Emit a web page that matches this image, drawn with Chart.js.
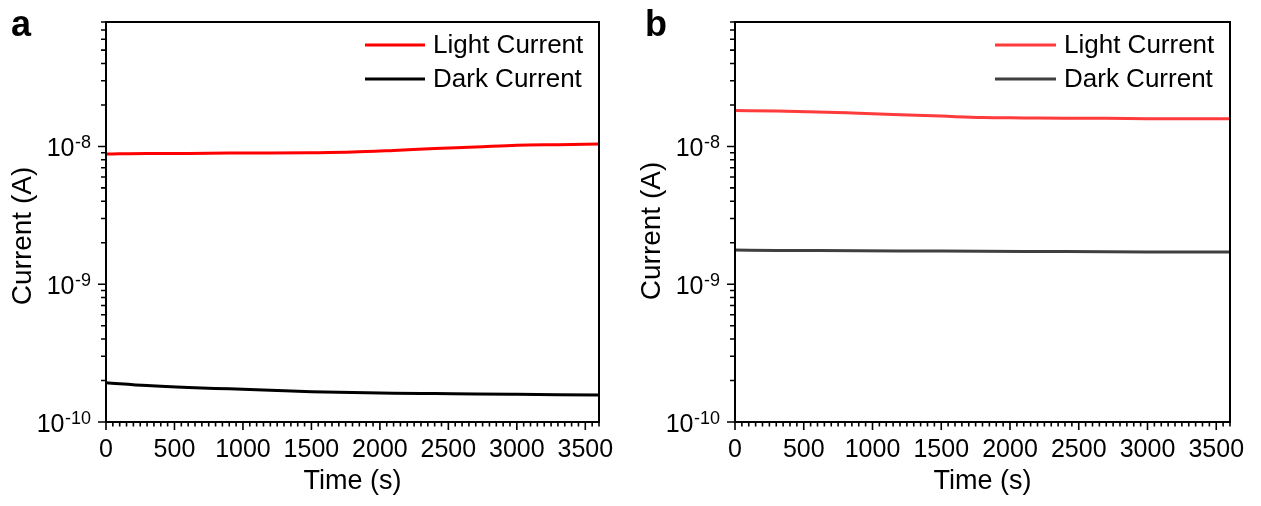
<!DOCTYPE html>
<html><head><meta charset="utf-8">
<script src="https://cdn.jsdelivr.net/npm/chart.js@4.4.0/dist/chart.umd.min.js"></script>
<style>
html,body{margin:0;padding:0;background:#fff;width:1261px;height:506px;overflow:hidden;}
.panel{position:absolute;top:0;height:506px;}
canvas{display:block;}
.letter{position:absolute;font:bold 36px "Liberation Sans",Arial,sans-serif;line-height:36px;color:#000;}
</style></head><body>
<div class="panel" style="left:0;width:630px"><canvas id="ca" width="630" height="506"></canvas></div>
<div class="panel" style="left:630px;width:631px"><canvas id="cb" width="631" height="506"></canvas></div>
<div class="letter" style="left:11px;top:6px">a</div>
<div class="letter" style="left:645px;top:6px">b</div>
<script>
// ---- data ----
const timeSeconds   = [0, 300, 600, 900, 1200, 1500, 1800, 2100, 2400, 2700, 3000, 3300, 3600];
const lightCurrentA = [8.8e-9, 8.9e-9, 8.9e-9, 8.95e-9, 8.95e-9, 9.0e-9, 9.1e-9, 9.35e-9, 9.65e-9, 9.9e-9, 1.02e-8, 1.03e-8, 1.04e-8];
const darkCurrentA  = [1.93e-10, 1.84e-10, 1.78e-10, 1.74e-10, 1.70e-10, 1.66e-10, 1.64e-10, 1.62e-10, 1.61e-10, 1.60e-10, 1.59e-10, 1.58e-10, 1.57e-10];
const lightCurrentB = [1.82e-8, 1.81e-8, 1.78e-8, 1.74e-8, 1.70e-8, 1.66e-8, 1.62e-8, 1.61e-8, 1.60e-8, 1.60e-8, 1.59e-8, 1.59e-8, 1.59e-8];
const darkCurrentB  = [1.77e-9, 1.76e-9, 1.755e-9, 1.75e-9, 1.745e-9, 1.74e-9, 1.735e-9, 1.73e-9, 1.725e-9, 1.72e-9, 1.715e-9, 1.71e-9, 1.71e-9];
const seriesLabels  = ['Light Current', 'Dark Current'];
const xTickValues   = [0, 500, 1000, 1500, 2000, 2500, 3000, 3500];
const xMinorStep    = 50;
const yDecadeTicks  = [1e-10, 1e-9, 1e-8];
const yTickExponents = ['-10', '-9', '-8'];
const xRange = [0, 3600];
const yRange = [1e-10, 8e-8];

const FONT = '"Liberation Sans", Arial, sans-serif';
Chart.defaults.font.family = FONT;
Chart.defaults.color = '#000';

const paperPlugin = {
  id: 'paperFrame',
  afterDraw(chart, args, o) {
    const ctx = chart.ctx, a = chart.chartArea, xs = chart.scales.x, ys = chart.scales.y;
    ctx.save();
    ctx.strokeStyle = '#000';
    ctx.fillStyle = '#000';
    // frame
    ctx.lineWidth = 2;
    ctx.strokeRect(a.left, a.top, a.right - a.left, a.bottom - a.top);
    // x ticks
    ctx.lineWidth = 1.6;
    ctx.beginPath();
    for (let t = xRange[0]; t <= xRange[1]; t += xMinorStep) {
      const px = xs.getPixelForValue(t);
      const len = (t % 500 === 0) ? 8 : 4.5;
      ctx.moveTo(px, a.bottom); ctx.lineTo(px, a.bottom + len);
    }
    // y ticks
    for (let d = -10; d <= -8; d++) {
      for (let m = 1; m <= 9; m++) {
        const v = m * Math.pow(10, d);
        if (v > yRange[1] * 1.0001) continue;
        const py = ys.getPixelForValue(v);
        const len = (m === 1) ? 8 : 5;
        ctx.moveTo(a.left - len, py); ctx.lineTo(a.left, py);
      }
    }
    ctx.stroke();
    // y tick labels 10^n
    const rightEdge = a.left - 15;
    yDecadeTicks.forEach((v, i) => {
      const py = ys.getPixelForValue(v);
      ctx.textAlign = 'right';
      ctx.textBaseline = 'alphabetic';
      ctx.font = '18px ' + FONT;
      const sw = ctx.measureText(yTickExponents[i]).width;
      ctx.fillText(yTickExponents[i], rightEdge, py + 2);
      ctx.font = '25px ' + FONT;
      ctx.fillText('10', rightEdge - sw - 0.5, py + 10);
    });
    // y title
    ctx.save();
    ctx.translate(a.left - 83, o.yTitleY);
    ctx.rotate(-Math.PI / 2);
    ctx.font = '28px ' + FONT;
    ctx.textAlign = 'center';
    ctx.textBaseline = 'middle';
    ctx.fillText('Current (A)', 0, 0);
    ctx.restore();
    // legend
    chart.data.datasets.forEach((ds, i) => {
      const y = a.top + 23 + i * 34;
      ctx.strokeStyle = ds.borderColor;
      ctx.lineWidth = 3;
      ctx.beginPath();
      ctx.moveTo(a.right - o.legX1, y); ctx.lineTo(a.right - 174, y);
      ctx.stroke();
      ctx.font = '26px ' + FONT;
      ctx.textAlign = 'left';
      ctx.textBaseline = 'middle';
      ctx.fillText(ds.label, a.right - 166, y + 0.5);
    });
    ctx.restore();
  }
};

function makeChart(id, light, dark, lightColor, darkColor, padRight, yAxisW, yTitleY, legX1) {
  return new Chart(document.getElementById(id), {
    type: 'line',
    data: {
      labels: timeSeconds,
      datasets: [
        { label: seriesLabels[0], data: timeSeconds.map((t, i) => ({x: t, y: light[i]})), borderColor: lightColor, borderWidth: 3, pointRadius: 0, cubicInterpolationMode: 'monotone', fill: false },
        { label: seriesLabels[1], data: timeSeconds.map((t, i) => ({x: t, y: dark[i]})), borderColor: darkColor, borderWidth: 3, pointRadius: 0, cubicInterpolationMode: 'monotone', fill: false }
      ]
    },
    options: {
      responsive: false,
      animation: false,
      devicePixelRatio: 1,
      layout: { padding: { left: 0, top: 22, right: padRight, bottom: 0 } },
      plugins: { legend: { display: false }, tooltip: { enabled: false }, paperFrame: { yTitleY: yTitleY, legX1: legX1 } },
      scales: {
        x: {
          type: 'linear', min: xRange[0], max: xRange[1], position: 'bottom',
          grid: { display: false }, border: { display: false },
          afterBuildTicks: s => { s.ticks = xTickValues.map(v => ({ value: v })); },
          afterFit: s => { s.height = 84; },
          ticks: { font: { size: 25 }, color: '#000', padding: 5, maxRotation: 0, autoSkip: false, callback: v => String(v) },
          title: { display: true, text: 'Time (s)', font: { size: 27 }, color: '#000', padding: { top: 0, bottom: 8 } }
        },
        y: {
          type: 'logarithmic', min: yRange[0], max: yRange[1], position: 'left',
          grid: { display: false }, border: { display: false },
          afterBuildTicks: s => { s.ticks = yDecadeTicks.map(v => ({ value: v })); },
          afterFit: s => { s.width = yAxisW; },
          ticks: { display: false },
          title: { display: false }
        }
      }
    },
    plugins: [paperPlugin]
  });
}

makeChart('ca', lightCurrentA, darkCurrentA, '#ff0000', '#000000', 31, 106, 236, 234);
makeChart('cb', lightCurrentB, darkCurrentB, '#ff3b3b', '#3f3f3f', 31, 105, 231, 235);
</script>
</body></html>
